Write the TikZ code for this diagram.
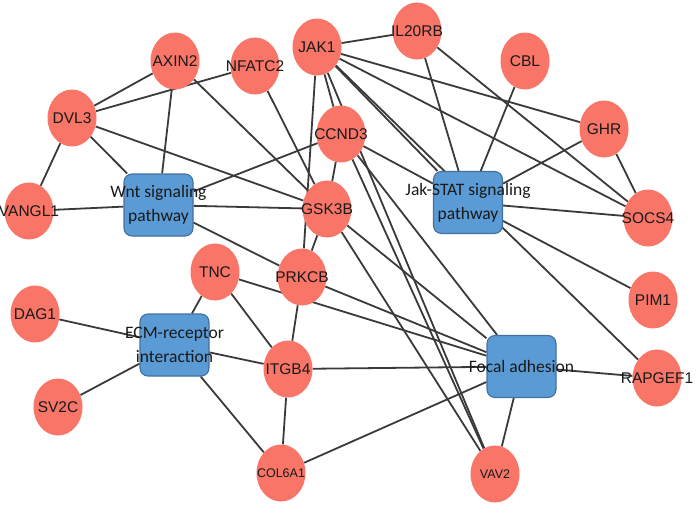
\documentclass[tikz,border=0pt]{standalone}
\usepackage{fontspec}
\setmainfont{Liberation Sans}
\newfontfamily\boxfont{Carlito}
\usetikzlibrary{shapes.geometric,backgrounds}
\definecolor{genered}{RGB}{248,117,103}
\definecolor{pathblue}{RGB}{91,155,213}
\definecolor{pathrim}{RGB}{65,113,156}
\definecolor{linkgray}{RGB}{58,58,58}
\newcommand\genefont[1]{\fontsize{#1pt}{#1pt}\selectfont}
\newcommand\pathfont{\boxfont\fontsize{17.5pt}{24pt}\selectfont}

\begin{document}
\begin{tikzpicture}[x=1pt,y=-1pt,
  gene/.style={ellipse,fill=genered,minimum width=49pt,minimum height=57pt,inner sep=0pt},
  pathway/.style={draw=pathrim,fill=pathblue,line width=1.1pt,rounded corners=8pt,
    minimum width=69pt,minimum height=62pt,inner sep=0pt},
  pathlabel/.style={align=center,font=\pathfont,text=black!90},
  link/.style={linkgray,line width=1.8pt}]
  \useasboundingbox (0,0) rectangle (700,506);

  % gene nodes
  \foreach \n/\x/\y/\t/\s in {axin2/175/61/AXIN2/15.5, nfatc2/255/66/NFATC2/15.5,
      jak1/317/47/JAK1/15.5, il20rb/417/31/IL20RB/15.5, cbl/525/61/CBL/15.5,
      ghr/604/129/GHR/15.5, dvl3/72/118/DVL3/15.5, ccnd3/341/134/CCND3/15.5,
      gsk3b/327/209/GSK3B/15.5, socs4/648/218/SOCS4/15.5, vangl1/29/211/VANGL1/15.5,
      tnc/215/272/TNC/15.5, prkcb/302/277/PRKCB/15.5, pim1/653/300/PIM1/15.5,
      dag1/35/314/DAG1/15.5, itgb4/288/369/ITGB4/15.5, rapgef1/657/378/RAPGEF1/15.5,
      sv2c/58/407/SV2C/15.5, col6a1/281/473/COL6A1/12.5, vav2/495/474/VAV2/12.5}
    \node[gene,label={[font=\genefont{\s},text=black!90]center:\t}] (\n) at (\x,\y) {};

  % pathway nodes
  \node[pathway] (wnt) at (158.5,205) {};
  \node[pathlabel] at (wnt) {Wnt signaling\\pathway};
  \node[pathway] (jakstat) at (468,202.5) {};
  \node[pathlabel] at (jakstat) {Jak-STAT signaling\\pathway};
  \node[pathway] (ecm) at (174.5,345) {};
  \node[pathlabel] at (ecm) {ECM-receptor\\interaction};
  \node[pathway] (focal) at (521.5,366.5) {};
  \node[pathlabel] at (focal) {Focal adhesion};

  \begin{pgfonlayer}{background}
    % gene to pathway
    \foreach \a/\b in {dvl3/wnt, axin2/wnt, vangl1/wnt, ccnd3/wnt, gsk3b/wnt, prkcb/wnt,
        jak1/jakstat, il20rb/jakstat, cbl/jakstat, ghr/jakstat, socs4/jakstat,
        ccnd3/jakstat, pim1/jakstat,
        dag1/ecm, sv2c/ecm, tnc/ecm, itgb4/ecm, col6a1/ecm,
        ccnd3/focal, gsk3b/focal, prkcb/focal, tnc/focal, itgb4/focal,
        col6a1/focal, vav2/focal, rapgef1/focal}
      \draw[link] (\a) -- (\b);
    % gene to gene
    \foreach \a/\b in {dvl3/axin2, dvl3/nfatc2, dvl3/vangl1, dvl3/gsk3b, axin2/gsk3b,
        nfatc2/gsk3b, jak1/il20rb, jak1/ghr, jak1/socs4, jak1/ccnd3, ccnd3/gsk3b,
        jak1/prkcb, jak1/vav2, jak1/rapgef1, il20rb/socs4, ghr/socs4, ccnd3/vav2,
        gsk3b/prkcb, gsk3b/vav2, prkcb/itgb4, tnc/itgb4, itgb4/col6a1}
      \draw[link] (\a) -- (\b);
  \end{pgfonlayer}
\end{tikzpicture}
\end{document}
